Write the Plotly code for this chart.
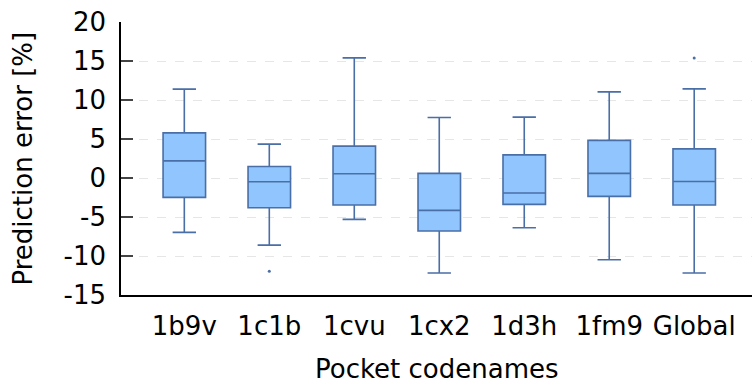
import plotly.graph_objects as go

categories = ["1b9v", "1c1b", "1cvu", "1cx2", "1d3h", "1fm9", "Global"]
lower_whisker = [-6.97, -8.6, -5.3, -12.18, -6.38, -10.48, -12.18]
q1 = [-2.49, -3.82, -3.47, -6.8, -3.38, -2.36, -3.47]
median = [2.2, -0.49, 0.54, -4.15, -1.93, 0.59, -0.44]
q3 = [5.79, 1.48, 4.09, 0.59, 2.97, 4.82, 3.74]
upper_whisker = [11.39, 4.34, 15.4, 7.76, 7.8, 11.04, 11.43]
outlier_cats = ["1c1b", "Global"]
outlier_vals = [-11.97, 15.4]
y_ticks = [-15, -10, -5, 0, 5, 10, 15, 20]

line_col = "#4a6ea6"
fill_col = "#90c6fd"
font_family = "DejaVu Sans"

fig = go.Figure()
fig.add_trace(go.Box(
    x=categories, q1=q1, median=median, q3=q3,
    lowerfence=lower_whisker, upperfence=upper_whisker,
    fillcolor=fill_col, line=dict(color=line_col, width=1.6),
    whiskerwidth=0.55, boxpoints=False, showlegend=False,
))
fig.add_trace(go.Scatter(
    x=outlier_cats, y=outlier_vals, mode="markers",
    marker=dict(color=line_col, size=3), showlegend=False,
))

fs = 26
fig.update_layout(
    width=752, height=384,
    margin=dict(l=121, r=0, t=22, b=89),
    plot_bgcolor="white", paper_bgcolor="white",
    boxgap=0.5, boxgroupgap=0,
    font=dict(family=font_family, size=fs, color="black"),
    annotations=[
        dict(text="Pocket codenames", xref="paper", yref="paper",
             x=(437 - 121) / 631, y=(295 - 369) / 273,
             xanchor="center", yanchor="middle", showarrow=False,
             font=dict(size=fs)),
        dict(text="Prediction error [%]", xref="paper", yref="paper",
             x=(22 - 121) / 631, y=0.5, textangle=-90,
             xanchor="center", yanchor="middle", showarrow=False,
             font=dict(size=fs)),
    ],
)
fig.update_xaxes(
    range=[-0.745, 6.68], showline=True, linecolor="black", linewidth=1.5,
    showgrid=False, ticks="", tickfont=dict(size=fs), ticklabelstandoff=7,
    automargin=False,
)
fig.update_yaxes(
    range=[-15, 20], tickvals=y_ticks, ticktext=[str(v) for v in y_ticks],
    showline=True, linecolor="black", linewidth=1.5,
    ticks="inside", ticklen=12, tickcolor="#444444", tickwidth=1.5,
    showgrid=True, gridcolor="#e6e6e6", griddash="dash", gridwidth=1,
    zeroline=False, tickfont=dict(size=fs), ticklabelstandoff=8,
    automargin=False,
)

fig.write_html("out.html")
